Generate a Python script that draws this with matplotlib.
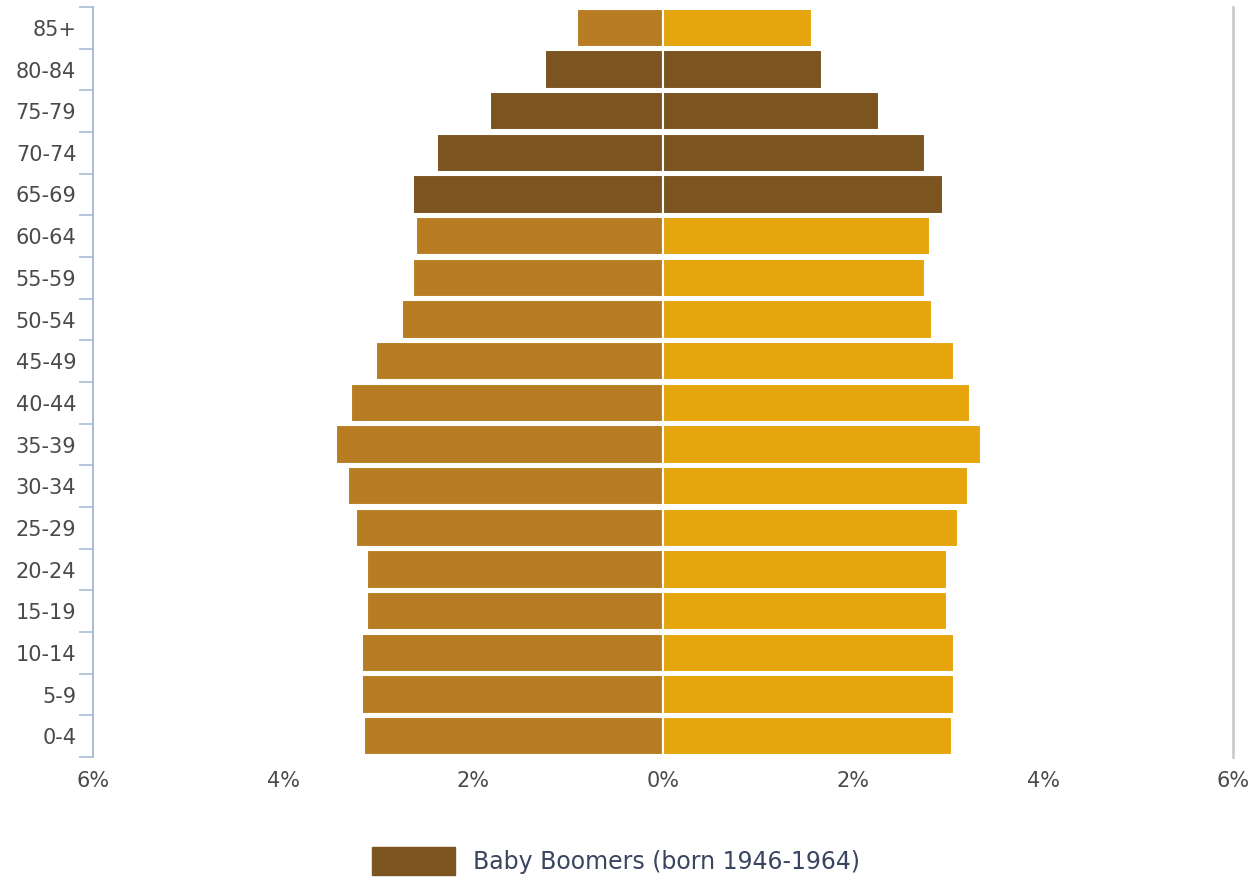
import matplotlib
matplotlib.use("Agg")
import matplotlib.pyplot as plt
from matplotlib.patches import Patch

# Age groups, youngest first (bottom of the pyramid)
age_groups = ["0-4", "5-9", "10-14", "15-19", "20-24", "25-29", "30-34", "35-39",
              "40-44", "45-49", "50-54", "55-59", "60-64", "65-69", "70-74",
              "75-79", "80-84", "85+"]

# Share of total population (%) by sex
male_pct = [3.15, 3.17, 3.17, 3.12, 3.12, 3.23, 3.32, 3.44, 3.28, 3.02,
            2.75, 2.63, 2.60, 2.63, 2.38, 1.82, 1.24, 0.91]
female_pct = [3.04, 3.06, 3.06, 2.99, 2.99, 3.10, 3.21, 3.35, 3.23, 3.06,
              2.83, 2.76, 2.81, 2.95, 2.76, 2.27, 1.67, 1.57]

# Groups born 1946-1964
boomer_groups = ["65-69", "70-74", "75-79", "80-84"]

x_ticks = [-6, -4, -2, 0, 2, 4, 6]
x_tick_labels = ["6%", "4%", "2%", "0%", "2%", "4%", "6%"]

MALE_COLOR = "#B87D23"
FEMALE_COLOR = "#E5A50D"
BOOMER_COLOR = "#7B5420"
TEXT_COLOR = "#4A4A4A"

plt.rcParams["font.family"] = ["DejaVu Sans"]

fig = plt.figure(figsize=(12.53, 8.8), dpi=100)
ax = fig.add_axes([93 / 1253, 1 - 757 / 880, (1233 - 93) / 1253, 750 / 880])

y = list(range(len(age_groups)))
male_colors = [BOOMER_COLOR if g in boomer_groups else MALE_COLOR for g in age_groups]
female_colors = [BOOMER_COLOR if g in boomer_groups else FEMALE_COLOR for g in age_groups]

ax.barh(y, [-v for v in male_pct], height=0.92, color=male_colors,
        edgecolor="white", linewidth=1.5)
ax.barh(y, female_pct, height=0.92, color=female_colors,
        edgecolor="white", linewidth=1.5)

ax.set_xlim(-6, 6)
ax.set_ylim(-0.5, len(age_groups) - 0.5)

# Age labels centred on rows, tick marks on the row boundaries
ax.set_yticks(y)
ax.set_yticklabels(age_groups, fontsize=15, color=TEXT_COLOR)
ax.set_yticks([i - 0.5 for i in range(len(age_groups) + 1)], minor=True)
ax.tick_params(axis="y", which="major", length=0, pad=12)
ax.tick_params(axis="y", which="minor", length=10, width=1.2, color="#A9BCD6")

ax.set_xticks(x_ticks)
ax.set_xticklabels(x_tick_labels, fontsize=15, color=TEXT_COLOR)
ax.tick_params(axis="x", length=0, pad=10)

for side in ("top", "bottom"):
    ax.spines[side].set_visible(False)
ax.spines["left"].set_color("#A9BCD6")
ax.spines["left"].set_linewidth(1.4)
ax.spines["right"].set_color("#CCCCCC")
ax.spines["right"].set_linewidth(2)

handle = Patch(facecolor=BOOMER_COLOR, edgecolor=BOOMER_COLOR)
leg = fig.legend([handle], ["Baby Boomers (born 1946-1964)"],
                 loc="center", bbox_to_anchor=(616 / 1253, 1 - 861 / 880),
                 frameon=False, fontsize=17, handlelength=3.5, handleheight=1.4,
                 handletextpad=0.75)
for t in leg.get_texts():
    t.set_color("#3A4560")

fig.savefig("out.png", dpi=100)
